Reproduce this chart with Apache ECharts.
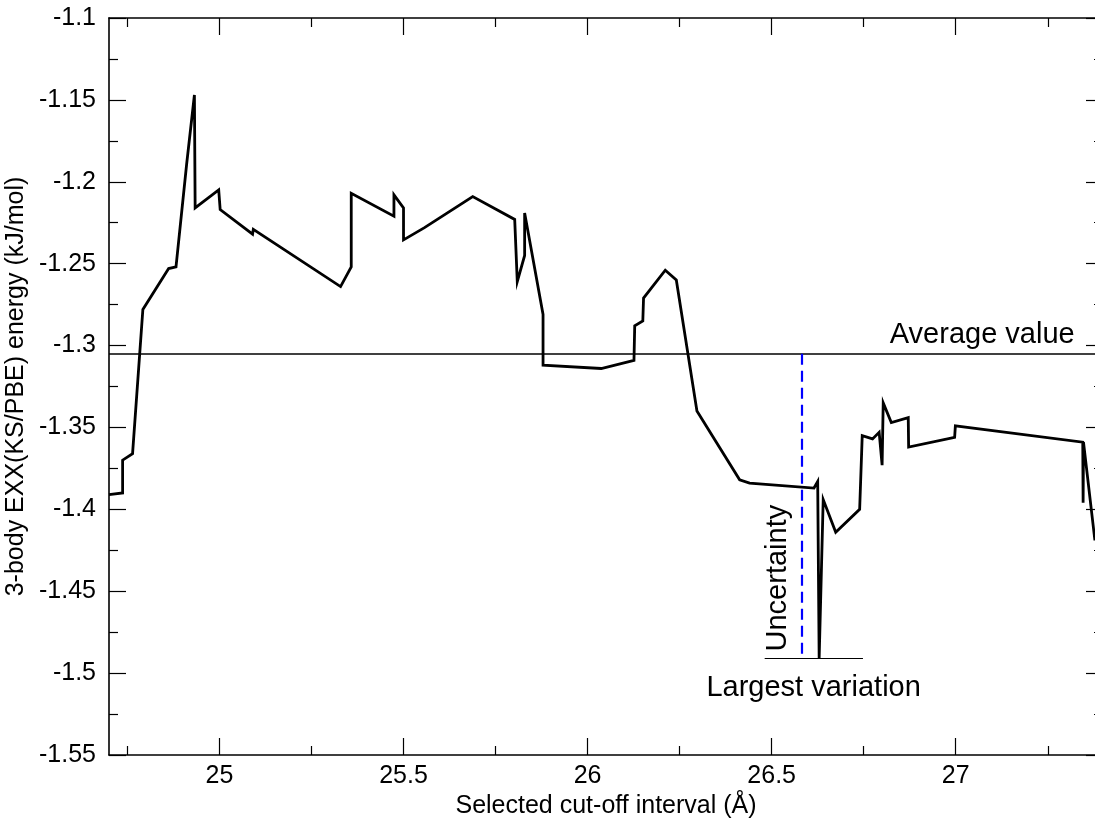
<!DOCTYPE html>
<html>
<head>
<meta charset="utf-8">
<script src="https://cdn.jsdelivr.net/npm/echarts@6/dist/echarts.min.js"></script>
<style>
  html, body { margin: 0; padding: 0; background: #ffffff; }
  #chart { width: 1095px; height: 818px; }
</style>
</head>
<body>
<div id="chart"></div>
<script>
// Cut-off interval (Å) and 3-body EXX(KS/PBE) energy (kJ/mol)
const cutoff = [
  24.700, 24.737, 24.737, 24.764, 24.792, 24.862, 24.882, 24.911, 24.932, 24.934,
  24.998, 25.002, 25.090, 25.092, 25.329, 25.358, 25.358, 25.474, 25.474, 25.500,
  25.500, 25.557, 25.688, 25.802, 25.803, 25.809, 25.829, 25.829, 25.879, 25.879,
  26.037, 26.126, 26.128, 26.150, 26.152, 26.211, 26.241, 26.297, 26.413, 26.440,
  26.615, 26.625, 26.629, 26.640, 26.674, 26.739, 26.746, 26.774, 26.792, 26.800,
  26.803, 26.825, 26.871, 26.872, 26.997, 26.999, 27.345, 27.346, 27.347, 27.378
];
const energy = [
  -1.391, -1.390, -1.370, -1.366, -1.278, -1.253, -1.252, -1.189, -1.147, -1.216,
  -1.205, -1.217, -1.232, -1.229, -1.264, -1.252, -1.207, -1.221, -1.208, -1.216,
  -1.2355, -1.228, -1.209, -1.223, -1.222, -1.261, -1.245, -1.219, -1.281, -1.312,
  -1.314, -1.309, -1.288, -1.285, -1.271, -1.254, -1.260, -1.340, -1.382, -1.384,
  -1.387, -1.383, -1.491, -1.394, -1.414, -1.400, -1.355, -1.357, -1.353, -1.373,
  -1.335, -1.347, -1.344, -1.362, -1.356, -1.349, -1.359, -1.396, -1.359, -1.419
];

// Reference values
const AVERAGE = -1.305;
const LARGEST_LOW = -1.491;
const UNCERTAINTY_AT = 26.581;
const VARIATION_SPAN = [26.481, 26.748];

// Axis ranges and ticks
const X_RANGE = [24.70, 27.40];
const X_TICKS = [25, 25.5, 26, 26.5, 27];
const X_MINOR = [24.75, 25.25, 25.75, 26.25, 26.75, 27.25];
const Y_RANGE = [-1.55, -1.1];
const Y_TICKS = [-1.55, -1.5, -1.45, -1.4, -1.35, -1.3, -1.25, -1.2, -1.15, -1.1];
const Y_MINOR = [-1.525, -1.475, -1.425, -1.375, -1.325, -1.275, -1.225, -1.175, -1.125];

// Annotation anchors (data coordinates)
const LABEL_AVERAGE_AT = [27.323, -1.2935];
const LABEL_VARIATION_AT = [26.614, -1.5090];
const LABEL_UNCERTAINTY_AT = [26.518, -1.4420];

const FONT = 'Liberation Sans, Arial, Helvetica, sans-serif';
const INK = '#000000';

function xAxisDef(position, ticks, len, withLabels, withLine) {
  return {
    type: 'value', position: position,
    min: X_RANGE[0], max: X_RANGE[1],
    axisLine: { show: withLine, onZero: false, lineStyle: { color: INK, width: 1.6 } },
    axisTick: { show: true, inside: true, length: len, customValues: ticks,
                lineStyle: { color: INK, width: 1.2 } },
    axisLabel: withLabels
      ? { show: true, customValues: ticks, color: INK, fontFamily: FONT, fontSize: 25, margin: 9 }
      : { show: false },
    splitLine: { show: false }
  };
}
function yAxisDef(position, ticks, len, withLabels, withLine) {
  return {
    type: 'value', position: position,
    min: Y_RANGE[0], max: Y_RANGE[1],
    axisLine: { show: withLine, onZero: false, lineStyle: { color: INK, width: 1.6 } },
    axisTick: { show: true, inside: true, length: len, customValues: ticks,
                lineStyle: { color: INK, width: 1.2 } },
    axisLabel: withLabels
      ? { show: true, customValues: ticks, color: INK, fontFamily: FONT, fontSize: 25, margin: 13 }
      : { show: false },
    splitLine: { show: false }
  };
}

const xMain = xAxisDef('bottom', X_TICKS, 17, true, true);
xMain.name = 'Selected cut-off interval (Å)';
xMain.nameLocation = 'middle';
xMain.nameGap = 37;
xMain.nameTextStyle = { color: INK, fontFamily: FONT, fontSize: 25 };

const yMain = yAxisDef('left', Y_TICKS, 17, true, true);
yMain.name = '3-body EXX(KS/PBE) energy (kJ/mol)';
yMain.nameLocation = 'middle';
yMain.nameGap = 76;
yMain.nameTextStyle = { color: INK, fontFamily: FONT, fontSize: 25 };

const chart = echarts.init(document.getElementById('chart'), null, { renderer: 'canvas' });

const annoLabel = {
  show: true, color: INK, opacity: 1, fontFamily: FONT, fontSize: 29,
  textBorderWidth: 0, textShadowBlur: 0
};

chart.setOption({
  animation: false,
  backgroundColor: '#ffffff',
  // the plot frame runs slightly past the right edge of the canvas
  grid: { left: 109, top: 18, width: 994, height: 737, containLabel: false, outerBoundsMode: 'none' },
  xAxis: [
    xMain,
    xAxisDef('bottom', X_MINOR, 9, false, false),
    xAxisDef('top', X_TICKS, 17, false, true),
    xAxisDef('top', X_MINOR, 9, false, false)
  ],
  yAxis: [
    yMain,
    yAxisDef('left', Y_MINOR, 9, false, false),
    yAxisDef('right', Y_TICKS, 17, false, true),
    yAxisDef('right', Y_MINOR, 9, false, false)
  ],
  series: [
    {
      name: 'EXX energy',
      type: 'line',
      xAxisIndex: 0, yAxisIndex: 0,
      data: cutoff.map((x, i) => [x, energy[i]]),
      showSymbol: false,
      symbol: 'none',
      lineStyle: { color: INK, width: 2.8, join: 'miter', miterLimit: 8 },
      z: 3
    },
    {
      name: 'annotations',
      type: 'scatter',
      xAxisIndex: 0, yAxisIndex: 0,
      symbolSize: 0,
      silent: true,
      itemStyle: { color: INK, opacity: 1 },
      data: [
        { value: LABEL_AVERAGE_AT,
          label: Object.assign({}, annoLabel, { formatter: 'Average value', position: [0, 0],
                                               align: 'right', verticalAlign: 'middle' }) },
        { value: LABEL_VARIATION_AT,
          label: Object.assign({}, annoLabel, { formatter: 'Largest variation', position: 'inside',
                                               align: 'center', verticalAlign: 'middle' }) },
        { value: LABEL_UNCERTAINTY_AT,
          label: Object.assign({}, annoLabel, { formatter: 'Uncertainty', position: 'inside',
                                               align: 'center', verticalAlign: 'middle', rotate: 90 }) }
      ],
      markLine: {
        silent: true,
        symbol: 'none',
        precision: 4,
        label: { show: false },
        data: [
          { yAxis: AVERAGE, lineStyle: { color: INK, width: 1.6, type: 'solid' } },
          [
            { coord: [UNCERTAINTY_AT, AVERAGE], lineStyle: { color: '#0000ff', width: 2.2, type: [11, 6] } },
            { coord: [UNCERTAINTY_AT, LARGEST_LOW] }
          ],
          [
            { coord: [VARIATION_SPAN[0], LARGEST_LOW], lineStyle: { color: INK, width: 1.2, type: 'solid' } },
            { coord: [VARIATION_SPAN[1], LARGEST_LOW] }
          ]
        ]
      },
      z: 2
    }
  ]
});
</script>
</body>
</html>
